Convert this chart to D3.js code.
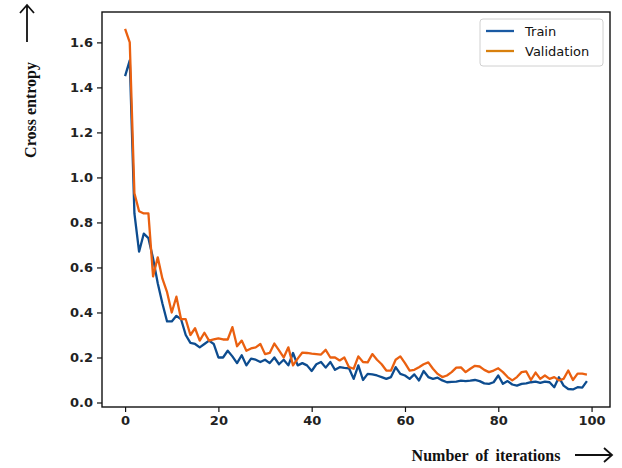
<!DOCTYPE html>
<html>
<head>
<meta charset="utf-8">
<script src="https://cdn.jsdelivr.net/npm/d3@7"></script>
<style>
    html, body { margin: 0; padding: 0; background: #fff; }
    svg { display: block; }
    .tick text { font-family: "DejaVu Sans", sans-serif; font-size: 13px; font-weight: bold; fill: #222; }
    .tick line { stroke: #111; stroke-width: 1.2; }
</style>
</head>
<body>
<svg id="chart"></svg>
<script>
// ============================================================
// DATI
// ============================================================
const iterations = d3.range(0, 100);

const trainLoss = [
    1.45, 1.52, 0.84, 0.67, 0.75, 0.73, 0.64, 0.53, 0.44, 0.36,
    0.36, 0.385, 0.37, 0.30, 0.265, 0.26, 0.245, 0.26, 0.275, 0.26,
    0.20, 0.20, 0.23, 0.205, 0.175, 0.21, 0.165, 0.195, 0.19, 0.18,
    0.19, 0.175, 0.20, 0.17, 0.19, 0.165, 0.22, 0.165, 0.175, 0.165,
    0.14, 0.17, 0.18, 0.155, 0.18, 0.145, 0.157, 0.154, 0.152, 0.105,
    0.165, 0.10, 0.127, 0.125, 0.12, 0.113, 0.105, 0.113, 0.157, 0.127,
    0.12, 0.105, 0.125, 0.098, 0.14, 0.113, 0.105, 0.11, 0.098, 0.09,
    0.092, 0.093, 0.097, 0.095, 0.097, 0.10, 0.095, 0.085, 0.083, 0.09,
    0.12, 0.083, 0.095, 0.08, 0.075, 0.083, 0.085, 0.09, 0.093, 0.087,
    0.093, 0.09, 0.068, 0.112, 0.075, 0.06, 0.058, 0.068, 0.066, 0.095
];

const validationLoss = [
    1.66, 1.60, 0.93, 0.85, 0.84, 0.84, 0.56, 0.645, 0.55, 0.49,
    0.40, 0.47, 0.37, 0.37, 0.30, 0.33, 0.275, 0.31, 0.275, 0.28,
    0.285, 0.28, 0.28, 0.335, 0.25, 0.275, 0.23, 0.24, 0.245, 0.26,
    0.215, 0.22, 0.262, 0.232, 0.20, 0.245, 0.165, 0.195, 0.222, 0.22,
    0.217, 0.215, 0.213, 0.234, 0.20, 0.20, 0.187, 0.20, 0.157, 0.15,
    0.205, 0.18, 0.178, 0.215, 0.19, 0.17, 0.142, 0.142, 0.19, 0.205,
    0.175, 0.142, 0.145, 0.157, 0.17, 0.178, 0.15, 0.127, 0.113, 0.12,
    0.135, 0.155, 0.156, 0.135, 0.15, 0.163, 0.16, 0.145, 0.135, 0.142,
    0.152, 0.135, 0.113, 0.098, 0.113, 0.135, 0.138, 0.10, 0.133, 0.105,
    0.12, 0.105, 0.113, 0.098, 0.105, 0.142, 0.10, 0.128, 0.128, 0.124
];

const xTicks = [0, 20, 40, 60, 80, 100];
const yTicks = [0.0, 0.2, 0.4, 0.6, 0.8, 1.0, 1.2, 1.4, 1.6];

const seriesNames = ["Train", "Validation"];
const seriesColors = ["#0d4c8f", "#ea6010"];
const legendColors = ["#1a5aa3", "#d8800e"];

// ============================================================
// SETUP SVG / MISURE
// ============================================================
const width = 622;
const height = 468;
const frame = { left: 102, right: 610, top: 12, bottom: 407 };

const svg = d3.select("#chart")
    .attr("width", width)
    .attr("height", height);

const x = d3.scaleLinear()
    .domain([-4.95, 103.95])
    .range([frame.left, frame.right]);

const y = d3.scaleLinear()
    .domain([-0.02, 1.735])
    .range([frame.bottom, frame.top]);

// ============================================================
// ASSI
// ============================================================
svg.append("g")
    .attr("transform", `translate(0,${frame.bottom})`)
    .call(d3.axisBottom(x).tickValues(xTicks).tickSize(5).tickPadding(4).tickFormat(d3.format("d")))
    .call((g) => g.select(".domain").remove());

svg.append("g")
    .attr("transform", `translate(${frame.left},0)`)
    .call(d3.axisLeft(y).tickValues(yTicks).tickSize(5).tickPadding(4).tickFormat(d3.format(".1f")))
    .call((g) => g.select(".domain").remove());

// cornice
svg.append("rect")
    .attr("x", frame.left)
    .attr("y", frame.top)
    .attr("width", frame.right - frame.left)
    .attr("height", frame.bottom - frame.top)
    .attr("fill", "none")
    .attr("stroke", "#111")
    .attr("stroke-width", 1.4);

// ============================================================
// LINEE
// ============================================================
const line = d3.line()
    .x((d, i) => x(iterations[i]))
    .y((d) => y(d));

[trainLoss, validationLoss].forEach((values, k) => {
    svg.append("path")
        .datum(values)
        .attr("fill", "none")
        .attr("stroke", seriesColors[k])
        .attr("stroke-width", 2.3)
        .attr("stroke-linejoin", "round")
        .attr("d", line);
});

// ============================================================
// LEGENDA
// ============================================================
const legend = svg.append("g").attr("transform", "translate(480,19)");

legend.append("rect")
    .attr("width", 123)
    .attr("height", 47)
    .attr("rx", 3)
    .attr("fill", "#fff")
    .attr("fill-opacity", 0.9)
    .attr("stroke", "#d0d0d0");

seriesNames.forEach((name, k) => {
    const ly = 12 + k * 20;
    legend.append("line")
        .attr("x1", 6)
        .attr("x2", 34)
        .attr("y1", ly)
        .attr("y2", ly)
        .attr("stroke", legendColors[k])
        .attr("stroke-width", 2.3);
    legend.append("text")
        .attr("x", 45)
        .attr("y", ly)
        .attr("dy", "0.35em")
        .attr("font-family", "DejaVu Sans, sans-serif")
        .attr("font-size", "13px")
        .attr("fill", "#111")
        .text(name);
});

// ============================================================
// TITOLI ASSI + FRECCE
// ============================================================
svg.append("text")
    .attr("transform", "translate(30,110) rotate(-90)")
    .attr("text-anchor", "middle")
    .attr("dy", "0.35em")
    .attr("font-family", "Liberation Serif, serif")
    .attr("font-weight", "bold")
    .attr("font-size", "16px")
    .attr("fill", "#111")
    .text("Cross entropy");

svg.append("text")
    .attr("x", 486)
    .attr("y", 455)
    .attr("text-anchor", "middle")
    .attr("dy", "0.35em")
    .attr("font-family", "Liberation Serif, serif")
    .attr("font-weight", "bold")
    .attr("font-size", "16px")
    .attr("word-spacing", "3px")
    .attr("fill", "#111")
    .text("Number of iterations");

const arrows = svg.append("g")
    .attr("fill", "none")
    .attr("stroke", "#111")
    .attr("stroke-width", 1.8);

// freccia verso l'alto
arrows.append("path").attr("d", "M27,42 L27,5 M20,13 L27,5 L34,13");
// freccia verso destra
arrows.append("path").attr("d", "M575,455 L612,455 M604,448 L612,455 L604,462");
</script>
</body>
</html>
